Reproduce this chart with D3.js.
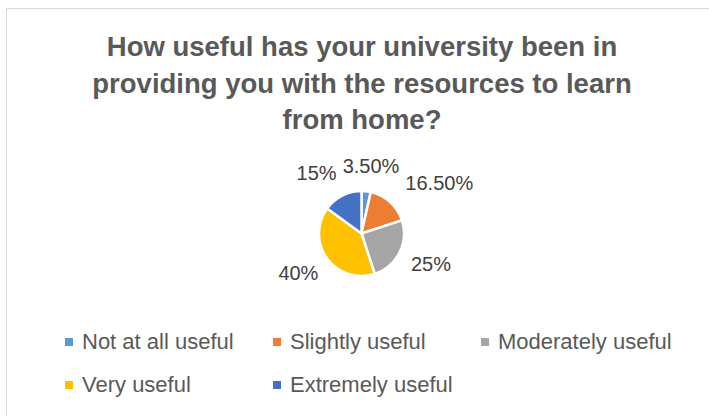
<!DOCTYPE html>
<html>
<head>
<meta charset="utf-8">
<script src="https://cdn.jsdelivr.net/npm/d3@7"></script>
<style>
  html, body { margin: 0; padding: 0; background: #fff; }
  svg { display: block; }
</style>
</head>
<body>
<div id="chart"></div>
<script>
// Données
const categories = ["Not at all useful", "Slightly useful", "Moderately useful", "Very useful", "Extremely useful"];
const values = [3.5, 16.5, 25, 40, 15];
const labels = ["3.50%", "16.50%", "25%", "40%", "15%"];
const colors = ["#5B9BD5", "#ED7D31", "#A5A5A5", "#FFC000", "#4472C4"];
const titleLines = ["How useful has your university been in", "providing you with the resources to learn", "from home?"];

const W = 709, H = 416;
const font = "'Liberation Sans', Arial, sans-serif";

const svg = d3.select("#chart").append("svg")
  .attr("width", W).attr("height", H);

// Cadre du graphique
svg.append("rect")
  .attr("x", 6.5).attr("y", 8.5)
  .attr("width", W).attr("height", H)
  .attr("fill", "#fff")
  .attr("stroke", "#D9D9D9")
  .attr("stroke-width", 1);

// Titre
svg.append("g").selectAll("text")
  .data(titleLines)
  .enter().append("text")
  .attr("x", 362)
  .attr("y", (d, i) => 56 + i * 36.5)
  .attr("text-anchor", "middle")
  .attr("font-family", font)
  .attr("font-weight", "700")
  .attr("font-size", "27.5px")
  .attr("fill", "#595959")
  .text(d => d);

// Camembert
const cx = 361.5, cy = 233.5, r = 42.5;
const data = categories.map((c, i) => ({ cat: c, value: values[i], label: labels[i], color: colors[i] }));

const pie = d3.pie().sort(null).value(d => d.value);
const arcs = pie(data);
const arc = d3.arc().innerRadius(0).outerRadius(r);

const g = svg.append("g").attr("transform", `translate(${cx},${cy})`);

g.selectAll("path")
  .data(arcs)
  .enter().append("path")
  .attr("d", arc)
  .attr("fill", d => d.data.color)
  .attr("stroke", "#fff")
  .attr("stroke-width", 2.5)
  .attr("stroke-linejoin", "round");

// Étiquettes : boîte collée à l'arc, puis décalage horizontal si chevauchement
const labelG = g.append("g");
const lab = labelG.selectAll("text")
  .data(arcs)
  .enter().append("text")
  .attr("text-anchor", "middle")
  .attr("dy", "0.35em")
  .attr("font-family", font)
  .attr("font-size", "20px")
  .attr("fill", "#404040")
  .text(d => d.data.label);

const placed = [];
const pad = 6, gap = 15.5, lh = 20;
lab.each(function(d) {
  const w = this.getComputedTextLength();
  const a = (d.startAngle + d.endAngle) / 2;
  const s = Math.sin(a), c = Math.cos(a);
  let x = (r + gap) * s + s * w / 2;
  const y = -(r + gap) * c - c * lh / 2;
  for (const p of placed) {
    const overlapY = Math.abs(y - p.y) < lh;
    const overlapX = Math.abs(x - p.x) < (w + p.w) / 2 + pad;
    if (overlapY && overlapX) {
      if (s >= 0) x = p.x + (p.w + w) / 2 + pad;
      else x = p.x - (p.w + w) / 2 - pad;
    }
  }
  placed.push({ x, y, w });
  d3.select(this).attr("x", x).attr("y", y);
});

// Légende
const legendX = d3.scaleLinear().domain([0, 1]).range([65, 273]);
const perRow = 3;
const legend = svg.append("g").selectAll("g")
  .data(data)
  .enter().append("g")
  .attr("transform", (d, i) => `translate(${legendX(i % perRow)},${342 + Math.floor(i / perRow) * 43})`);

legend.append("rect")
  .attr("x", 0).attr("y", -4)
  .attr("width", 8).attr("height", 8)
  .attr("fill", d => d.color);

legend.append("text")
  .attr("x", 17)
  .attr("y", 6.5)
  .attr("font-family", font)
  .attr("font-size", "22px")
  .attr("fill", "#595959")
  .text(d => d.cat);
</script>
</body>
</html>
